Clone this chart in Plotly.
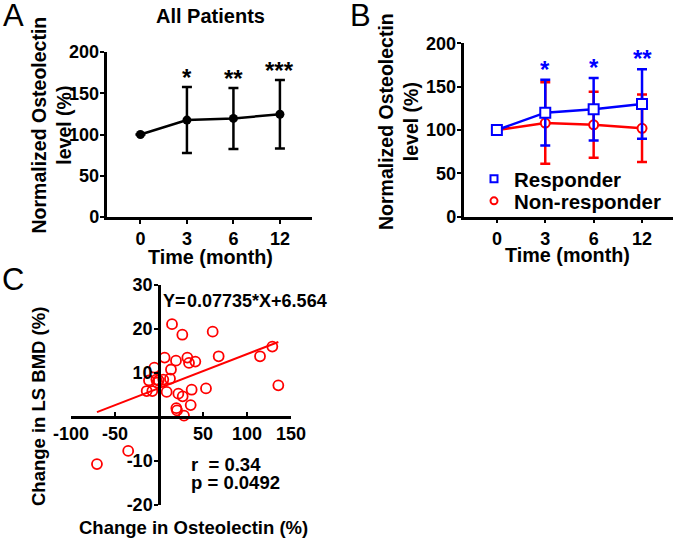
import plotly.graph_objects as go

# ---------------- data ----------------
months = ["0", "3", "6", "12"]

all_mean = [100, 117.5, 119.5, 124.5]
all_err = [0, 40, 37, 41.5]
all_stars = ["", "*", "**", "***"]

resp_mean = [100, 120, 124, 130]
resp_err = [0, 38, 36, 40]
nonresp_mean = [100, 108, 106, 102]
nonresp_err = [0, 47, 38, 39]
resp_stars = ["", "*", "*", "**"]

osteo_change = [14.8, 26.5, 61, 6.4, 19.3, 32.2, 34.1, 41.3, 67.8, 114.8, 128.8, 135.6,
                -5.3, 13.6, -11.4, -3, -0.4, -1.9, 4.9, 12.5, -14, -7.6, 8.7, 22,
                26.9, 37.1, 53.4, 19.7, 20.5, 36, 28.4, -35, -70.5]
bmd_change = [21.1, 18.7, 19.4, 13.5, 12.8, 13.5, 12.3, 12.6, 13.8, 13.8, 16.0, 7.2,
              11.2, 10.8, 8.3, 8.5, 8.3, 7.8, 8.5, 8.7, 5.9, 5.9, 5.7, 5.3,
              4.7, 6.2, 6.5, 2.0, 1.5, 2.7, 0.3, -7.7, -10.7]
slope, intercept = 0.07735, 6.564
r_value, p_value = 0.34, 0.0492

level_ticks = [0, 50, 100, 150, 200]
c_x_ticks = [-100, -50, 50, 100, 150]
c_y_ticks = [-20, -10, 10, 20, 30]

# ---------------- style ----------------
FONT = "Liberation Sans, Arial, sans-serif"
BLUE = "#0000FF"
RED = "#FF0000"
W, H = 677, 540
idx = list(range(len(months)))


def bold(vals):
    return [f"<b>{v}</b>" for v in vals]


def px_x(p):
    return p / W


def px_y(p):
    return 1 - p / H


fig = go.Figure()

# Panel A
fig.add_trace(go.Scatter(
    x=idx, y=all_mean, mode="lines+markers", xaxis="x", yaxis="y",
    line=dict(color="black", width=2.5),
    marker=dict(color="black", size=9, symbol="circle"),
    error_y=dict(type="data", array=all_err, visible=True, color="black", thickness=2.5, width=5),
    showlegend=False,
))

# Panel B
fig.add_trace(go.Scatter(
    x=idx, y=nonresp_mean, mode="lines+markers", xaxis="x2", yaxis="y2",
    line=dict(color=RED, width=2.5),
    marker=dict(color="white", size=9, symbol="circle", line=dict(color=RED, width=2)),
    error_y=dict(type="data", array=nonresp_err, visible=True, color=RED, thickness=2.5, width=5),
    showlegend=False,
))
fig.add_trace(go.Scatter(
    x=idx, y=resp_mean, mode="lines+markers", xaxis="x2", yaxis="y2",
    line=dict(color=BLUE, width=2.5),
    marker=dict(color="white", size=10, symbol="square", line=dict(color=BLUE, width=2)),
    error_y=dict(type="data", array=resp_err, visible=True, color=BLUE, thickness=2.5, width=5),
    showlegend=False,
))
# legend entries (marker only)
fig.add_trace(go.Scatter(
    x=[None], y=[None], mode="markers", xaxis="x2", yaxis="y2", name="<b>Responder</b>",
    marker=dict(color="white", size=7, symbol="square", line=dict(color=BLUE, width=2)),
    legend="legend",
))
fig.add_trace(go.Scatter(
    x=[None], y=[None], mode="markers", xaxis="x2", yaxis="y2", name="<b>Non-responder</b>",
    marker=dict(color="white", size=7, symbol="circle", line=dict(color=RED, width=2)),
    legend="legend2",
))

# Panel C
x_fit = [min(osteo_change), max(osteo_change)]
y_fit = [slope * v + intercept for v in x_fit]
fig.add_trace(go.Scatter(
    x=x_fit, y=y_fit, mode="lines", xaxis="x3", yaxis="y3",
    line=dict(color=RED, width=2), showlegend=False,
))
fig.add_trace(go.Scatter(
    x=osteo_change, y=bmd_change, mode="markers", xaxis="x3", yaxis="y3",
    marker=dict(color=RED, size=10, symbol="circle-open", line=dict(width=1.8)),
    showlegend=False,
))

TICKFONT = dict(size=18, color="black", family=FONT, weight="bold")
axis_common = dict(showline=True, linecolor="black", linewidth=2.5, showgrid=False, zeroline=False,
                   ticks="outside", ticklen=4, tickwidth=2, tickcolor="black", automargin=False,
                   tickfont=TICKFONT)

# C axes domain
c_xr = [-100, 150]
c_yr = [-20, 30]
c_xd = [px_x(71), px_x(291)]
c_yd = [px_y(505), px_y(285)]
c_ypos = c_xd[0] + (0 - c_xr[0]) / (c_xr[1] - c_xr[0]) * (c_xd[1] - c_xd[0])
c_xpos = c_yd[0] + (0 - c_yr[0]) / (c_yr[1] - c_yr[0]) * (c_yd[1] - c_yd[0])

legend_style = dict(xanchor="left", yanchor="middle",
                    font=dict(size=20.5, family=FONT, color="black", weight="bold"),
                    bgcolor="rgba(0,0,0,0)", itemwidth=30, tracegroupgap=0, borderwidth=0)

fig.update_layout(
    width=W, height=H, autosize=False,
    margin=dict(l=0, r=0, t=0, b=0, pad=0, autoexpand=False),
    paper_bgcolor="white", plot_bgcolor="white",
    font=dict(family=FONT, color="black", weight="bold"),
    xaxis=dict(axis_common, domain=[px_x(106.5), px_x(312)], range=[-0.73, 3.69],
               tickvals=idx, ticktext=bold(months), anchor="y", ticklabelstandoff=0),
    yaxis=dict(axis_common, domain=[px_y(217), px_y(52)], range=[0, 200],
               tickvals=level_ticks, ticktext=bold(level_ticks), anchor="x", ticklabelstandoff=-3),
    xaxis2=dict(axis_common, domain=[px_x(463.5), px_x(673)], range=[-0.69, 3.64],
                tickvals=idx, ticktext=bold(months), anchor="y2", ticklabelstandoff=0),
    yaxis2=dict(axis_common, domain=[px_y(216.7), px_y(43.3)], range=[0, 200],
                tickvals=level_ticks, ticktext=bold(level_ticks), anchor="x2", ticklabelstandoff=-3),
    xaxis3=dict(axis_common, domain=c_xd, range=c_xr, tickvals=c_x_ticks, ticktext=bold(c_x_ticks),
                anchor="free", position=c_xpos, ticks="inside", tickfont=TICKFONT),
    yaxis3=dict(axis_common, domain=c_yd, range=c_yr, tickvals=c_y_ticks, ticktext=bold(c_y_ticks),
                anchor="free", position=c_ypos, ticklabelstandoff=-2, tickfont=TICKFONT),
    legend=dict(legend_style, x=px_x(474), y=px_y(179)),
    legend2=dict(legend_style, x=px_x(474), y=px_y(201)),
)

ann = []


def text(x, y, s, size=20, weight="bold", angle=0, xanchor="center", yanchor="middle", color="black",
         xref="paper", yref="paper", yshift=0):
    if weight == "bold":
        s = "<b>" + s.replace("<br>", "</b><br><b>") + "</b>"
    ann.append(dict(x=x, y=y, xref=xref, yref=yref, text=s, showarrow=False, textangle=angle,
                    xanchor=xanchor, yanchor=yanchor, yshift=yshift,
                    font=dict(size=size, family=FONT, color=color, weight=weight)))


# panel letters
text(px_x(1), px_y(15), "A", size=31, weight="normal", xanchor="left")
text(px_x(348), px_y(15), "B", size=31, weight="normal", xanchor="left")
text(px_x(0), px_y(279), "C", size=31, weight="normal", xanchor="left")

# Panel A texts
text(px_x(210), px_y(16), "All Patients", size=20)
text(px_x(50.5), px_y(125), "Normalized Osteolectin<br>level (%)", size=19.5, angle=-90)
text(px_x(210), px_y(257), "Time (month)", size=19.8)
for i, s in enumerate(all_stars):
    if s:
        text(idx[i], all_mean[i] + all_err[i], s, size=24, xref="x", yref="y", yanchor="bottom", yshift=-6)

# Panel B texts
text(px_x(399), px_y(122), "Normalized Osteolectin<br>level (%)", size=19.5, angle=-90)
text(px_x(567), px_y(255), "Time (month)", size=19.8)
for i, s in enumerate(resp_stars):
    if s:
        text(idx[i], resp_mean[i] + resp_err[i], s, size=24, xref="x2", yref="y2", yanchor="bottom",
             yshift=-5, color=BLUE)

# Panel C texts
text(px_x(38), px_y(407), "Change in LS BMD (%)", size=18.5, angle=-90)
text(px_x(193), px_y(527), "Change in Osteolectin (%)", size=18.5)
text(px_x(245), px_y(301), f"Y=&#8202;{slope}*X+{intercept}", size=18)
text(px_x(189), px_y(464), f"r  = {r_value}", size=18.5, xanchor="left")
text(px_x(189), px_y(482), f"p = {p_value}", size=18.5, xanchor="left")

fig.update_layout(annotations=ann)
fig.write_html("out.html", config={"displayModeBar": False},
               post_script="document.body.style.margin='0px';")
